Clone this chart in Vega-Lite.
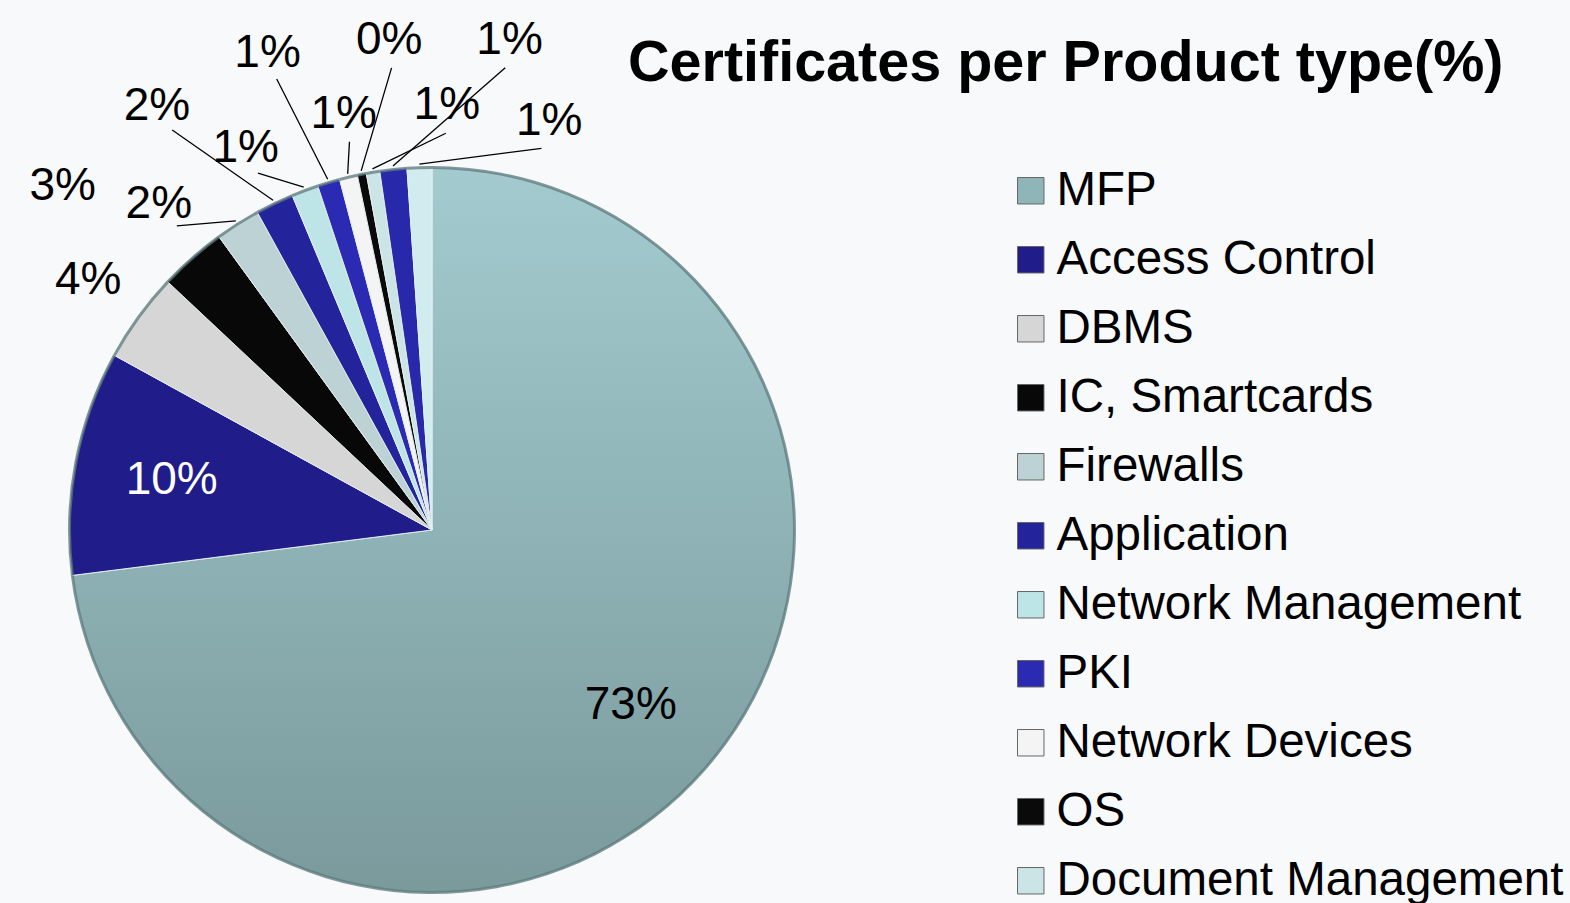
{
  "$schema": "https://vega.github.io/schema/vega-lite/v6.json",
  "width": 726,
  "height": 726,
  "autosize": {"type": "none"},
  "padding": {"left": 69, "top": 167, "right": 775, "bottom": 10},
  "background": "#f8f9fb",
  "config": {"view": {"stroke": null}, "font": "Liberation Sans"},
  "title": {
    "text": "Certificates per Product type(%)",
    "font": "Liberation Sans",
    "fontSize": 57.5,
    "fontWeight": "bold",
    "color": "#000000",
    "anchor": "start",
    "frame": "group",
    "dx": 559,
    "offset": -121,
    "baseline": "alphabetic"
  },
  "data": {
    "values": [
      {"cat": "MFP", "pct": 73},
      {"cat": "Access Control", "pct": 10},
      {"cat": "DBMS", "pct": 4},
      {"cat": "IC, Smartcards", "pct": 3},
      {"cat": "Firewalls", "pct": 2},
      {"cat": "Application", "pct": 1.7},
      {"cat": "Network Management", "pct": 1.2},
      {"cat": "PKI", "pct": 1.0},
      {"cat": "Network Devices", "pct": 0.8},
      {"cat": "OS", "pct": 0.4},
      {"cat": "Document Management", "pct": 0.6},
      {"cat": "Data Protection", "pct": 1.2},
      {"cat": "Other", "pct": 1.1}
    ]
  },
  "transform": [
    {"window": [{"op": "sum", "field": "pct", "as": "cum"}, {"op": "row_number", "as": "rn"}], "frame": [null, 0]},
    {"calculate": "datum.cum - datum.pct", "as": "start"},
    {"calculate": "datum.cum - datum.pct / 2", "as": "mid"},
    {"calculate": "format(datum.pct, '.0f') + '%'", "as": "label"},
    {"calculate": "datum.rn - 3", "as": "k"},
    {"calculate": "datum.pct < 5 ? (306 + datum.k * 7) * PI / 180 : datum.mid * 3.6 * PI / 180", "as": "la"},
    {"calculate": "datum.pct < 5 ? min(datum.k % 2 == 0 ? 425 : 505, 490 / cos(datum.la)) : 265", "as": "lr"},
    {"calculate": "datum.lr * sin(datum.la)", "as": "lx"},
    {"calculate": "datum.lr * cos(datum.la)", "as": "ly"},
    {"calculate": "366 * sin(datum.mid * 3.6 * PI / 180)", "as": "rx"},
    {"calculate": "366 * cos(datum.mid * 3.6 * PI / 180)", "as": "ry"},
    {"calculate": "(datum.lr - 28) * sin(datum.la)", "as": "ex"},
    {"calculate": "(datum.lr - 28) * cos(datum.la)", "as": "ey"}
  ],
  "layer": [
    {
      "mark": {"type": "arc", "stroke": "#e4eeef", "strokeWidth": 1},
      "encoding": {
        "theta": {"field": "start", "type": "quantitative", "stack": null, "scale": {"domain": [0, 100], "range": [0, 6.283185307]}},
        "theta2": {"field": "cum"},
        "fill": {
          "field": "cat",
          "type": "nominal",
          "sort": null,
          "condition": {
            "test": "datum.cat === 'MFP'",
            "value": {"gradient": "linear", "x1": 0, "y1": 0, "x2": 0, "y2": 1, "stops": [{"offset": 0, "color": "#a3cbcf"}, {"offset": 1, "color": "#7a9a9c"}]}
          },
          "scale": {
            "domain": ["MFP", "Access Control", "DBMS", "IC, Smartcards", "Firewalls", "Application", "Network Management", "PKI", "Network Devices", "OS", "Document Management", "Data Protection", "Other"],
            "range": ["#8fb5b8", "#201d8a", "#d6d6d6", "#080808", "#bcd2d4", "#23239c", "#bde4e6", "#2a2ab2", "#f4f4f4", "#0a0a0a", "#cbe5e7", "#2828aa", "#d0ecee"]
          },
          "legend": {
            "orient": "none",
            "legendX": 938,
            "legendY": 0,
            "title": null,
            "padding": 0,
            "labelFont": "Liberation Sans",
            "labelFontSize": 47.5,
            "labelColor": "#000000",
            "labelLimit": 800,
            "labelOffset": 2,
            "symbolType": "square",
            "symbolSize": 700,
            "symbolStrokeWidth": 1,
            "symbolStrokeColor": "#666666",
            "rowPadding": 20
          }
        }
      }
    },
    {
      "mark": {"type": "arc", "radius": 364, "radius2": 361, "color": "#5d7a7c", "opacity": 0.75},
      "encoding": {
        "theta": {"field": "start", "type": "quantitative", "stack": null},
        "theta2": {"field": "cum"}
      }
    },
    {
      "transform": [{"filter": "datum.pct < 2.5"}],
      "mark": {"type": "rule", "color": "#000000", "strokeWidth": 1.3},
      "encoding": {
        "x": {"field": "rx", "type": "quantitative", "scale": {"domain": [-363, 363], "nice": false, "zero": false}, "axis": null},
        "y": {"field": "ry", "type": "quantitative", "scale": {"domain": [-363, 363], "nice": false, "zero": false}, "axis": null},
        "x2": {"field": "ex"},
        "y2": {"field": "ey"}
      }
    },
    {
      "mark": {"type": "text", "font": "Liberation Sans", "fontSize": 46, "align": "center", "baseline": "middle"},
      "encoding": {
        "x": {"field": "lx", "type": "quantitative"},
        "y": {"field": "ly", "type": "quantitative"},
        "text": {"field": "label"},
        "color": {"condition": {"test": "datum.cat === 'Access Control'", "value": "#ffffff"}, "value": "#000000"}
      }
    }
  ]
}
